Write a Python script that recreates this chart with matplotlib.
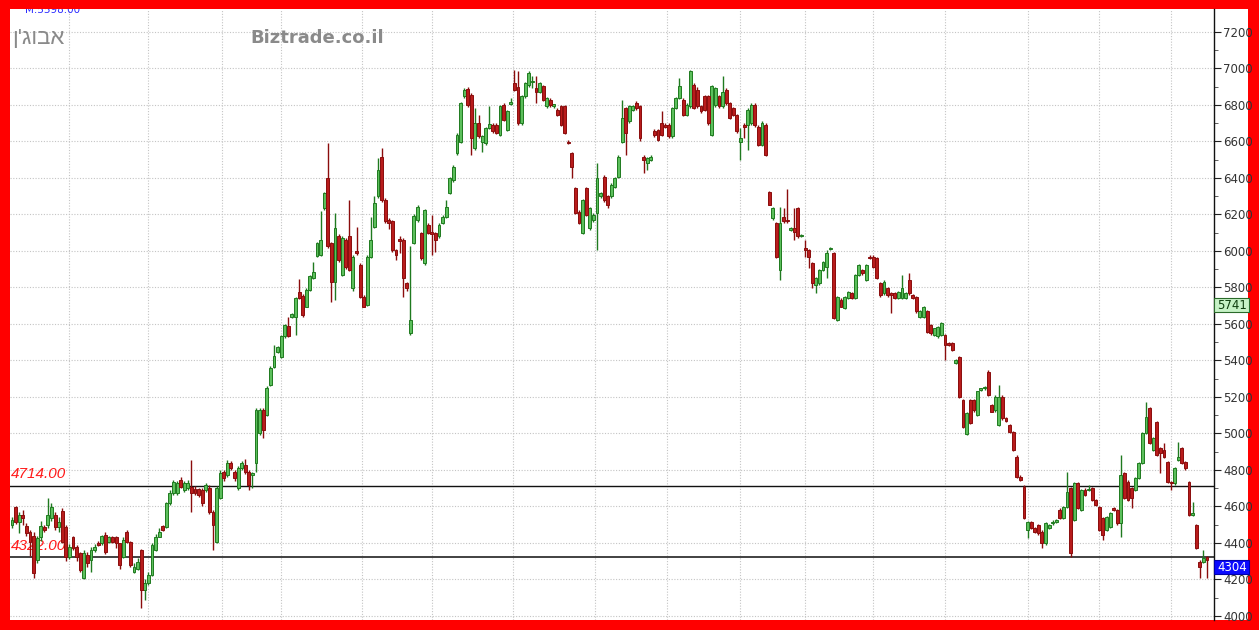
import matplotlib.pyplot as plt
from matplotlib.patches import Rectangle
import matplotlib.transforms as mtransforms
import numpy as np

# daily candles (segment by segment, left to right)
opens = [
    4499, 4595, 4517, 4553, 4494, 4460, 4440, 4307, 4430, 4489,
    4499, 4535, 4553, 4489, 4575, 4489, 4325, 4435, 4380, 4343,
    4206, 4335, 4307, 4362, 4398, 4398, 4445, 4407, 4435, 4430,
    4398, 4325, 4462, 4407, 4243, 4260, 4362, 4142, 4179, 4225,
    4362, 4435, 4494, 4489, 4617,
    4672, 4672, 4745, 4690, 4700, 4709, 4694, 4694, 4690, 4690,
    4700, 4572, 4407, 4645, 4787, 4773, 4836, 4791, 4700, 4810,
    4827, 4791, 4772,
    4836, 5001, 5129, 5102, 5266, 5366, 5448, 5421, 5531, 5590,
    5640, 5640, 5777, 5754, 5695, 5786,
    5850, 5973, 5978, 6234, 6398, 6042, 5832, 6079, 5868, 6060,
    6079, 5795, 6002, 5923, 5750, 5704, 5969, 6133, 6298, 6517,
    6280, 6170, 6161, 6005, 6058, 6060, 5823, 5549, 6042, 6170,
    6097, 5933, 6142, 6095, 6097, 6079, 6152, 6188, 6316,
    6389, 6535, 6599, 6846, 6886, 6855, 6563, 6700, 6599, 6590,
    6672, 6690, 6690, 6636, 6800, 6663, 6805, 6919, 6900, 6700,
    6846, 6910, 6925, 6892, 6873, 6901, 6791, 6828, 6795, 6773,
    6791, 6791, 6599, 6535, 6344, 6215, 6097, 6344, 6124, 6170,
    6206, 6298,
    6407, 6298, 6298, 6352, 6407, 6599, 6782, 6709, 6773, 6809,
    6791, 6517, 6480, 6499, 6654, 6663, 6700, 6690, 6690, 6627,
    6782, 6837, 6828, 6745, 6791, 6910, 6883, 6791, 6846, 6846,
    6636, 6800, 6846, 6791, 6883, 6809, 6782, 6745, 6599, 6690,
    6691, 6700, 6800, 6681, 6581, 6690,
    6325, 6179, 6152, 5896, 6188, 6163, 6115, 6124, 6234, 6079,
    6015, 6005, 5933, 5814, 5823, 5896, 5914, 6010, 5987, 5622,
    5731, 5686, 5741, 5768, 5741, 5868, 5896, 5841, 5969, 5969,
    5960, 5823, 5768, 5795, 5768, 5768, 5741, 5741, 5741, 5841,
    5759, 5750, 5640, 5640,
    5668, 5595, 5540, 5531, 5540, 5540, 5494, 5494, 5385, 5421,
    5184, 4999, 5184, 5184, 5101, 5238, 5247, 5339, 5156, 5129,
    5046, 5202, 5083, 5046, 5010, 4873, 4763, 4709, 4471, 4516,
    4480, 4498, 4462, 4398, 4480, 4508, 4516, 4580, 4535, 4599,
    4699, 4526, 4727, 4580, 4690, 4690, 4699, 4636, 4599, 4535,
    4471, 4489, 4590, 4580, 4508, 4782, 4736, 4699, 4690, 4754,
    4837, 5001, 5138, 4910, 5065, 4919, 4910, 4845, 4736, 4727,
    4855, 4919, 4845, 4736, 4553, 4499, 4298, 4298, 4325,
]
highs = [
    4540, 4600, 4570, 4580, 4510, 4470, 4460, 4440, 4520, 4500,
    4645, 4620, 4570, 4540, 4590, 4500, 4395, 4440, 4390, 4350,
    4360, 4350, 4380, 4395, 4410, 4445, 4460, 4440, 4440, 4440,
    4400, 4430, 4470, 4410, 4290, 4320, 4365, 4200, 4240, 4400,
    4450, 4480, 4500, 4625, 4690,
    4745, 4740, 4760, 4740, 4745, 4855, 4710, 4700, 4700, 4730,
    4720, 4580, 4710, 4800, 4800, 4855, 4850, 4800, 4820, 4850,
    4860, 4800, 4790,
    5140, 5140, 5140, 5260, 5370, 5485, 5480, 5540, 5600, 5640,
    5660, 5750, 5845, 5765, 5795, 5870,
    5941, 6050, 6216, 6325, 6590, 6050, 6206, 6090, 6080, 6070,
    6280, 5980, 6133, 5935, 5760, 5980, 6188, 6298, 6508, 6563,
    6290, 6180, 6170, 6010, 6079, 6070, 5830, 6024, 6200, 6250,
    6105, 6230, 6150, 6197, 6105, 6150, 6195, 6280, 6405,
    6470, 6645, 6815, 6890, 6895, 6865, 6782, 6745, 6635, 6680,
    6791, 6700, 6700, 6800, 6810, 6770, 6836, 6992, 6983, 6855,
    6925, 6985, 6956, 6956, 6925, 6910, 6845, 6835, 6805, 6780,
    6800, 6800, 6610, 6540, 6350, 6225, 6285, 6350, 6240, 6205,
    6480, 6325,
    6415, 6305, 6370, 6405, 6525, 6828, 6790, 6800, 6800, 6820,
    6800, 6525, 6515, 6525, 6665, 6670, 6764, 6700, 6700, 6790,
    6845, 6946, 6835, 6810, 6990, 6920, 6900, 6800, 6855, 6855,
    6910, 6900, 6855, 6956, 6890, 6815, 6790, 6750, 6672, 6700,
    6780, 6810, 6810, 6690, 6710, 6700,
    6330, 6240, 6160, 6243, 6234, 6340, 6130, 6234, 6240, 6095,
    6060, 6010, 5940, 5855, 5900, 5945, 6005, 6020, 5995, 5755,
    5740, 5755, 5780, 5775, 5875, 5930, 5900, 5930, 5975, 5975,
    5965, 5830, 5840, 5800, 5775, 5775, 5780, 5868, 5775, 5878,
    5765, 5755, 5675, 5700,
    5675, 5600, 5580, 5590, 5610, 5545, 5500, 5500, 5410, 5425,
    5190, 5115, 5190, 5190, 5235, 5250, 5260, 5345, 5160, 5210,
    5266, 5210, 5090, 5050, 5015, 4880, 4770, 4715, 4520, 4520,
    4485, 4505, 4470, 4515, 4505, 4525, 4530, 4590, 4605, 4790,
    4705, 4735, 4735, 4695, 4700, 4718, 4705, 4640, 4605, 4540,
    4550, 4570, 4595, 4585, 4882, 4790, 4745, 4705, 4760, 4845,
    5010, 5174, 5145, 4980, 5070, 4925, 4946, 4850, 4740, 4815,
    4955, 4925, 4850, 4740, 4626, 4505, 4305, 4362, 4330,
]
lows = [
    4480, 4505, 4453, 4500, 4440, 4330, 4210, 4290, 4410, 4460,
    4480, 4520, 4470, 4460, 4400, 4300, 4310, 4360, 4300, 4240,
    4200, 4270, 4240, 4350, 4385, 4390, 4340, 4400, 4400, 4370,
    4260, 4320, 4400, 4270, 4235, 4250, 4042, 4090, 4170, 4220,
    4355, 4430, 4465, 4480, 4610,
    4660, 4660, 4700, 4680, 4690, 4570, 4660, 4650, 4600, 4680,
    4560, 4360, 4400, 4640, 4740, 4760, 4800, 4740, 4690, 4800,
    4780, 4690, 4700,
    4790, 4990, 4975, 5095, 5260, 5360, 5440, 5415, 5525, 5530,
    5630, 5540, 5735, 5640, 5690, 5780,
    5845, 5965, 5970, 6225, 6015, 5722, 5731, 5940, 5860, 5900,
    5890, 5780, 5980, 5740, 5690, 5700, 5960, 6125, 6290, 6270,
    6150, 6120, 5995, 5951, 5987, 5750, 5780, 5540, 6035, 6160,
    5950, 5925, 6090, 5978, 5996, 6070, 6145, 6180, 6310,
    6380, 6525, 6590, 6840, 6790, 6526, 6555, 6620, 6544, 6580,
    6665, 6645, 6640, 6630, 6710, 6655, 6800, 6875, 6690, 6690,
    6840, 6900, 6892, 6809, 6865, 6820, 6785, 6790, 6785, 6740,
    6685, 6640, 6585, 6398, 6200, 6145, 6090, 6190, 6115, 6160,
    6005, 6290,
    6270, 6234, 6290, 6345, 6400, 6590, 6526, 6700, 6765, 6770,
    6600, 6426, 6444, 6490, 6625, 6600, 6630, 6675, 6620, 6620,
    6775, 6830, 6740, 6740, 6785, 6775, 6785, 6755, 6765, 6690,
    6630, 6790, 6785, 6785, 6800, 6720, 6740, 6645, 6499, 6617,
    6554, 6690, 6680, 6575, 6575, 6520,
    6250, 6170, 5960, 5841, 6155, 6155, 6110, 6060, 6070, 6075,
    5969, 5905, 5795, 5768, 5815, 5890, 5850, 6005, 5625, 5615,
    5690, 5680, 5735, 5735, 5735, 5860, 5870, 5835, 5955, 5905,
    5845, 5750, 5760, 5750, 5658, 5735, 5735, 5735, 5735, 5760,
    5735, 5660, 5635, 5635,
    5550, 5540, 5535, 5525, 5535, 5403, 5480, 5450, 5380, 5195,
    5030, 4990, 5050, 5120, 5095, 5230, 5240, 5205, 5115, 5120,
    5040, 5075, 5065, 5005, 4905, 4755, 4740, 4530, 4425, 4475,
    4455, 4445, 4370, 4390, 4475, 4500, 4510, 4530, 4530, 4590,
    4322, 4520, 4585, 4575, 4655, 4685, 4630, 4600, 4465, 4416,
    4465, 4480, 4575, 4500, 4435, 4640, 4630, 4590, 4685, 4750,
    4830, 4995, 4940, 4905, 4875, 4782, 4865, 4730, 4690, 4720,
    4850, 4830, 4800, 4545, 4548, 4365, 4206, 4290, 4206,
]
closes = [
    4525, 4517, 4553, 4535, 4453, 4407, 4234, 4425, 4494, 4471,
    4553, 4599, 4489, 4517, 4407, 4325, 4380, 4372, 4325, 4252,
    4343, 4288, 4362, 4380, 4390, 4440, 4353, 4430, 4407, 4398,
    4279, 4416, 4407, 4279, 4270, 4298, 4142, 4179, 4225, 4390,
    4435, 4462, 4471, 4617, 4672,
    4736, 4727, 4709, 4727, 4730, 4672, 4672, 4663, 4617, 4718,
    4572, 4499, 4700, 4782, 4754, 4836, 4810, 4754, 4810, 4836,
    4791, 4718, 4782,
    5129, 5129, 5019, 5248, 5357, 5425, 5476, 5531, 5595, 5534,
    5652, 5741, 5741, 5650, 5786, 5860,
    5887, 6042, 6060, 6316, 6024, 5832, 6124, 5951, 6070, 5914,
    5896, 5969, 5987, 5750, 5695, 5969, 6060, 6261, 6444, 6280,
    6161, 6152, 6005, 5978, 6055, 5850, 5795, 5622, 6192, 6243,
    5960, 6224, 6097, 6093, 6060, 6142, 6188, 6243, 6398,
    6462, 6636, 6809, 6882, 6800, 6617, 6700, 6627, 6627, 6672,
    6696, 6654, 6645, 6791, 6718, 6764, 6809, 6883, 6700, 6846,
    6919, 6974, 6928, 6873, 6919, 6828, 6837, 6800, 6800, 6745,
    6691, 6645, 6590, 6462, 6206, 6152, 6279, 6197, 6234, 6197,
    6398, 6316,
    6280, 6252, 6362, 6398, 6517, 6727, 6645, 6791, 6791, 6782,
    6617, 6499, 6508, 6517, 6636, 6608, 6636, 6681, 6627, 6782,
    6837, 6901, 6745, 6800, 6983, 6782, 6791, 6764, 6773, 6700,
    6901, 6892, 6791, 6873, 6809, 6727, 6745, 6654, 6617, 6681,
    6773, 6800, 6690, 6581, 6700, 6526,
    6252, 6234, 5969, 6152, 6161, 6161, 6124, 6106, 6079, 6088,
    6005, 5969, 5823, 5850, 5896, 5941, 5987, 6018, 5631, 5750,
    5695, 5750, 5777, 5741, 5868, 5923, 5878, 5923, 5960, 5914,
    5850, 5759, 5832, 5759, 5759, 5741, 5777, 5795, 5768, 5768,
    5741, 5668, 5668, 5695,
    5558, 5549, 5576, 5585, 5604, 5485, 5485, 5458, 5403, 5202,
    5037, 5110, 5056, 5129, 5230, 5247, 5256, 5211, 5120, 5202,
    5202, 5083, 5070, 5010, 4910, 4763, 4745, 4535, 4516, 4480,
    4462, 4453, 4398, 4508, 4498, 4516, 4520, 4535, 4599, 4681,
    4343, 4727, 4590, 4690, 4663, 4695, 4636, 4608, 4471, 4444,
    4544, 4562, 4580, 4508, 4773, 4645, 4636, 4645, 4754, 4837,
    5001, 5092, 4946, 4973, 4882, 4891, 4873, 4736, 4727, 4809,
    4873, 4837, 4809, 4553, 4562, 4371, 4270, 4316, 4304,
]

# candle index where each month begins (vertical grid lines)
month_starts = [16, 38, 58.5, 75, 97.5, 117, 139.5, 162.5, 182.5, 203,
                221, 240, 260, 283, 303, 323]
level_lines = [4714.00, 4322.00]
ma_value = 5741
last_value = 4304
y_ticks = list(range(4000, 7201, 200))

stock_name = "אבוג'ן"
site_name = "Biztrade.co.il"
top_label = "M.5598.00"

W, H = 1259, 630
fig = plt.figure(figsize=(W / 100, H / 100), dpi=100, facecolor="#ff0000")
fig.patches.append(Rectangle((10 / W, 10 / H), 1238 / W, 611 / H,
                             transform=fig.transFigure, facecolor="white",
                             edgecolor="none", zorder=-10))
ax = fig.add_axes([10 / W, 10 / H, 1204 / W, 611 / H])
ax.set_facecolor("white")

o = np.array(opens, dtype=float)
h = np.array(highs, dtype=float)
l = np.array(lows, dtype=float)
c = np.array(closes, dtype=float)
x = np.arange(len(c))
up = c >= o

up_fill, up_edge = "#5cbf5c", "#1f7a1f"
dn_fill, dn_edge = "#b81c1c", "#8a0c0c"

ax.vlines(x[up], l[up], h[up], color=up_edge, linewidth=1, zorder=3)
ax.vlines(x[~up], l[~up], h[~up], color=dn_edge, linewidth=1, zorder=3)
body = np.maximum(np.abs(c - o), 8)
ax.bar(x[up], body[up], bottom=np.minimum(o, c)[up], width=0.8,
       color=up_fill, edgecolor=up_edge, linewidth=0.7, zorder=4)
ax.bar(x[~up], body[~up], bottom=np.minimum(o, c)[~up], width=0.8,
       color=dn_fill, edgecolor=dn_edge, linewidth=0.7, zorder=4)

# grid
for v in y_ticks:
    ax.axhline(v, color="#c4c4c4", linewidth=0.8, linestyle=(0, (1, 1.5)), zorder=1)
for m in month_starts:
    ax.axvline(m, color="#c4c4c4", linewidth=0.8, linestyle=(0, (1, 1.5)), zorder=1)

# support / resistance lines
ax.axhline(level_lines[0], color="#111111", linewidth=1.0, zorder=2)
ax.axhline(level_lines[1], color="#333333", linewidth=1.3, zorder=2)
for lv in level_lines:
    ax.annotate(f"{lv:.2f}", xy=(0, lv), xycoords=("axes fraction", "data"),
                xytext=(1, 3), textcoords="offset points",
                color="#ff1a1a", fontsize=11, fontstyle="italic",
                family=["Liberation Sans", "DejaVu Sans"], va="bottom", ha="left", zorder=2)

ax.set_xlim(-0.56, len(c) - 1 + 1.95)
ax.set_ylim(3978, 7325)

ax.yaxis.tick_right()
ax.set_yticks(y_ticks)
ax.set_yticks(range(4000, 7300, 100), minor=True)
ax.tick_params(axis="y", which="major", direction="out", length=5, width=0.8,
               labelsize=8.5, labelcolor="#333333", color="#222222", pad=1.5)
ax.tick_params(axis="y", which="minor", direction="out", length=3, width=0.6,
               color="#444444")
ax.set_xticks([])
for side in ["top", "left", "bottom"]:
    ax.spines[side].set_visible(False)
ax.spines["right"].set_color("#111111")
ax.spines["right"].set_linewidth(1)

# value boxes on the price axis
tr = mtransforms.blended_transform_factory(ax.transAxes, ax.transData)
box_w = 35 / 1204
box_h = 14 * 5.48
ax.add_patch(Rectangle((1.0, ma_value - box_h), box_w, box_h, transform=tr,
                       facecolor="#c6f2c6", edgecolor="#2a6a2a", linewidth=0.8,
                       clip_on=False, zorder=6))
ax.text(1.0 + 3 / 1204, ma_value - box_h / 2, str(ma_value), transform=tr,
        color="#0d3d0d", fontsize=8.5, va="center", ha="left", clip_on=False, zorder=7)
ax.add_patch(Rectangle((1.0, last_value - box_h), box_w, box_h, transform=tr,
                       facecolor="#0a0aff", edgecolor="#0000aa", linewidth=0.8,
                       clip_on=False, zorder=6))
ax.text(1.0 + 3 / 1204, last_value - box_h / 2, str(last_value), transform=tr,
        color="white", fontsize=8.5, va="center", ha="left", clip_on=False, zorder=7)

# header texts
ax.text(15 / 1204, (620 - 13) / 610.7, top_label, transform=ax.transAxes,
        color="#2a2aff", fontsize=7.5, va="baseline", ha="left", clip_on=True, zorder=5)
ax.text(2 / 1204, (620 - 39) / 610.7, stock_name[::-1], transform=ax.transAxes,
        color="#8a8a8a", fontsize=16, va="center", ha="left",
        family=["Liberation Sans", "DejaVu Sans"], zorder=5)
ax.text(240 / 1204, (620 - 38) / 610.7, site_name, transform=ax.transAxes,
        color="#8a8a8a", fontsize=13, fontweight="bold", va="center", ha="left",
        family=["DejaVu Sans"], zorder=5)

fig.savefig("out.png", dpi=100, facecolor=fig.get_facecolor())
